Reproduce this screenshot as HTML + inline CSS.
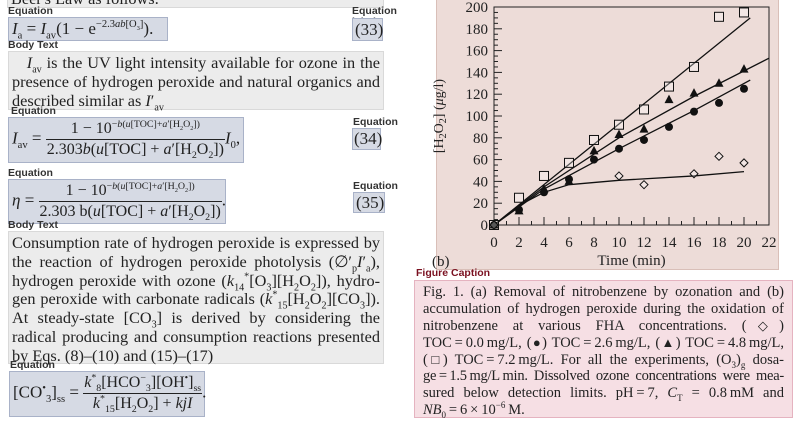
<!DOCTYPE html>
<html><head><meta charset="utf-8"><style>
body{margin:0;width:800px;height:424px;background:#fff;position:relative;overflow:hidden;font-family:"Liberation Serif",serif;color:#222}
.lab{position:absolute;font:bold 10.5px "Liberation Sans",sans-serif;color:#333;line-height:11px}
.eq{position:absolute;background:#d6dae4;border:1px solid #a9b2c8;box-sizing:border-box;font-size:17px;white-space:nowrap;line-height:20px}
.body{position:absolute;background:#ececec;border:1px solid #d9d9d9;box-sizing:border-box;font-size:16.3px;line-height:18.8px;text-align:justify;padding:1px 3px 0 3px}
.frac{display:inline-block;vertical-align:middle;text-align:center;line-height:20px;font-size:16px}
.frac span{display:block;padding:0 1px}
.frac .num{border-bottom:1px solid #222}
sub,sup{font-size:0.62em;line-height:0}
i{font-style:italic}
.cl{white-space:nowrap;text-align:justify;text-align-last:justify;height:16.9px;line-height:16.9px}
.cl.last{text-align-last:left}
.sym{font-size:13px}
</style></head><body>
<div class="body" style="left:7px;top:-12px;width:377px;height:20px">Beer's Law as follows:</div>

<div class="lab" style="left:8px;top:6px">Equation</div>
<div class="eq" style="left:8px;top:17px;width:160px;height:24px;padding:1px 3px"><i>I</i><sub>a</sub> = <i>I</i><sub>av</sub>(1 − e<sup>−2.3<i>ab</i>[O<sub>3</sub>]</sup>).</div>
<div class="lab" style="left:352px;top:6px">Equation<br>label</div>
<div class="eq" style="left:352px;top:18px;width:31px;height:23px;padding:1px 2px">(33)</div>

<div class="lab" style="left:8px;top:40px">Body Text</div>
<div class="body" style="left:8px;top:51px;width:376px;height:59px;padding-top:2px">&nbsp;&nbsp;&nbsp;<i>I</i><sub>av</sub> is the UV light intensity available for ozone in the presence of hydrogen peroxide and natural organics and described similar as <i>I</i>′<sub>av</sub></div>

<div class="lab" style="left:11px;top:106px">Equation</div>
<div class="eq" style="left:8px;top:117px;width:236px;height:46px;padding:1px 3px"><i>I</i><sub>av</sub> = <span class="frac"><span class="num">1 − 10<sup>−<i>b</i>(<i>u</i>[TOC]+<i>a</i>′[H<sub>2</sub>O<sub>2</sub>])</sup></span><span>2.303<i>b</i>(<i>u</i>[TOC] + <i>a</i>′[H<sub>2</sub>O<sub>2</sub>])</span></span><i>I</i><sub>0</sub>,</div>
<div class="lab" style="left:353px;top:117px">Equation<br>label</div>
<div class="eq" style="left:352px;top:128px;width:29px;height:22px;padding:0 1px">(34)</div>

<div class="lab" style="left:8px;top:168px">Equation</div>
<div class="eq" style="left:8px;top:179px;width:218px;height:45px;padding:1px 3px"><i>η</i> = <span class="frac"><span class="num">1 − 10<sup>−<i>b</i>(<i>u</i>[TOC]+<i>a</i>′[H<sub>2</sub>O<sub>2</sub>])</sup></span><span>2.303 b(<i>u</i>[TOC] + <i>a</i>′[H<sub>2</sub>O<sub>2</sub>])</span></span>.</div>
<div class="lab" style="left:353px;top:181px">Equation<br>label</div>
<div class="eq" style="left:353px;top:192px;width:32px;height:21px;padding:0 2px">(35)</div>

<div class="lab" style="left:8px;top:220px">Body Text</div>
<div class="body" style="left:8px;top:231px;width:376px;height:133px;padding-top:2px">Consumption rate of hydrogen peroxide is expressed by the reaction of hydrogen peroxide photolysis (∅′<sub>p</sub><i>I</i>′<sub>a</sub>), hydrogen peroxide with ozone (<i>k</i><sub>14</sub><sup>*</sup>[O<sub>3</sub>][H<sub>2</sub>O<sub>2</sub>]), hydro-gen peroxide with carbonate radicals (<i>k</i><sup>*</sup><sub>15</sub>[H<sub>2</sub>O<sub>2</sub>][CO<sub>3</sub>]). At steady-state [CO<sub>3</sub>] is derived by considering the radical producing and consumption reactions presented by Eqs. (8)–(10) and (15)–(17)</div>

<div class="lab" style="left:10px;top:360px">Equation</div>
<div class="eq" style="left:9px;top:371px;width:196px;height:46px;padding:1px 3px">[CO<sup>•</sup><sub>3</sub>]<sub>ss</sub> = <span class="frac"><span class="num"><i>k</i><sup>*</sup><sub>8</sub>[HCO<sup>−</sup><sub>3</sub>][OH<sup>•</sup>]<sub>ss</sub></span><span><i>k</i><sup>*</sup><sub>15</sub>[H<sub>2</sub>O<sub>2</sub>] + <i>kjI</i></span></span>.</div>

<div style="position:absolute;left:436px;top:0;width:343px;height:270px;background:#eddcd8;border:1px solid #d9bfb8;border-top:none;box-sizing:border-box"></div>
<svg style="position:absolute;left:0;top:0" width="800" height="424" font-family="Liberation Serif, serif"></svg>

<div class="lab" style="left:416px;top:268px;color:#7a1020">Figure Caption</div>
<div style="position:absolute;left:414px;top:280px;width:379px;height:138px;background:#f6dfe4;border:1px solid #e5b3c0;box-sizing:border-box;font-size:14.5px;padding:3px 8px 0 8px">
<div class="cl">Fig. 1. (a) Removal of nitrobenzene by ozonation and (b)</div>
<div class="cl">accumulation of hydrogen peroxide during the oxidation of</div>
<div class="cl">nitrobenzene at various FHA concentrations. (<span class="sym">◇</span>)</div>
<div class="cl">TOC&#8239;=&#8239;0.0&#8239;mg/L, (<span class="sym">●</span>) TOC&#8239;=&#8239;2.6&#8239;mg/L, (<span class="sym">▲</span>) TOC&#8239;=&#8239;4.8&#8239;mg/L,</div>
<div class="cl">(<span class="sym">□</span>) TOC&#8239;=&#8239;7.2&#8239;mg/L. For all the experiments, (O<sub>3</sub>)<sub>g</sub> dosa-</div>
<div class="cl" style="letter-spacing:-0.25px">ge&#8239;=&#8239;1.5&#8239;mg/L&#8239;min. Dissolved ozone concentrations were mea-</div>
<div class="cl">sured below detection limits. pH&#8239;=&#8239;7, <i>C</i><sub>T</sub> = 0.8&#8239;mM and</div>
<div class="cl last"><i>NB</i><sub>0</sub>&#8239;=&#8239;6&#8239;×&#8239;10<sup>−6</sup>&#8239;M.</div>
</div>

<script>
const times=[0,2,4,6,8,10,12,14,16,18,20];
const squareVals=[0,25,45,57,78,92,106,127,145,191,195];
const triangleVals=[0,13,33,40,68,83,88,115,121,130,143];
const circleVals=[0,14,30,42,60,70,78,90,104,112,125];
const diamondTimes=[0,10,12,16,18,20];
const diamondVals=[0,45,37,47,63,57];
const fitSquareT=[0,20.5];const fitSquareV=[0,190];
const fitTriT=[0,4,10,16,22];const fitTriV=[0,35,80,118,153];
const fitCircT=[0,4,10,16,20.5];const fitCircV=[0,33,70,105,133];
const fitDiaT=[0,2,4,6,10,16,20];const fitDiaV=[0,18,30,37,41,45,49];
const xTicks=[0,2,4,6,8,10,12,14,16,18,20,22];
const yTicks=[0,20,40,60,80,100,120,140,160,180,200];

const svg=document.querySelector('svg');const NS='http://www.w3.org/2000/svg';
const X=t=>494+t*12.5, Y=v=>225-v*1.09;
function mk(tag,a){const e=document.createElementNS(NS,tag);for(const k in a)e.setAttribute(k,a[k]);svg.appendChild(e);return e;}
let f=mk('rect',{x:X(0),y:Y(200),width:X(22)-X(0),height:Y(0)-Y(200),fill:'none',stroke:'#222','stroke-width':1});

for(let t=0;t<=22;t++){const big=t%2==0;const l=mk('line',{x1:X(t),x2:X(t),y1:Y(0),y2:Y(0)-(big?8:4),stroke:'#222'});}
for(let v=0;v<=200;v+=5){const big=v%20==0;const l=mk('line',{x1:X(0),x2:X(0)+(big?8:4),y1:Y(v),y2:Y(v),stroke:'#222'});}
xTicks.forEach(t=>{const e=mk('text',{x:X(t),y:Y(0)+22,'text-anchor':'middle','font-size':15,fill:'#222'});e.textContent=t;});
yTicks.forEach(v=>{const e=mk('text',{x:X(0)-6,y:Y(v)+5,'text-anchor':'end','font-size':15,fill:'#222'});e.textContent=v;});
let xt=mk('text',{x:X(11),y:265,'text-anchor':'middle','font-size':15,fill:'#222'});xt.textContent='Time (min)';
let yt=mk('text',{transform:`translate(443,${Y(100)}) rotate(-90)`,'text-anchor':'middle','font-size':14,fill:'#222'});yt.innerHTML='[H<tspan font-size="10" dy="3">2</tspan><tspan dy="-3">O</tspan><tspan font-size="10" dy="3">2</tspan><tspan dy="-3">] (</tspan><tspan font-style="italic">μ</tspan>g/l)';
let pb=mk('text',{x:432,y:266,'font-size':15,fill:'#222'});pb.textContent='(b)';
function fit(ts,vs,name){const e=mk('polyline',{points:ts.map((t,i)=>X(t)+','+Y(vs[i])).join(' '),fill:'none',stroke:'#111','stroke-width':1.3});}
fit(fitSquareT,fitSquareV,'fit-line-toc-7.2');fit(fitTriT,fitTriV,'fit-line-toc-4.8');fit(fitCircT,fitCircV,'fit-line-toc-2.6');fit(fitDiaT,fitDiaV,'fit-line-toc-0');
times.forEach((t,i)=>{const e=mk('rect',{x:X(t)-4.5,y:Y(squareVals[i])-4.5,width:9,height:9,fill:'#fff','fill-opacity':0.3,stroke:'#111'});});
times.forEach((t,i)=>{const x=X(t),y=Y(triangleVals[i]);const e=mk('polygon',{points:`${x},${y-5} ${x-4.5},${y+3.5} ${x+4.5},${y+3.5}`,fill:'#111'});});
times.forEach((t,i)=>{const e=mk('circle',{cx:X(t),cy:Y(circleVals[i]),r:4,fill:'#111'});});
diamondTimes.forEach((t,i)=>{const x=X(t),y=Y(diamondVals[i]);const e=mk('polygon',{points:`${x},${y-4} ${x+4},${y} ${x},${y+4} ${x-4},${y}`,fill:'#fff','fill-opacity':0.3,stroke:'#111'});});
</script>
</body></html>
